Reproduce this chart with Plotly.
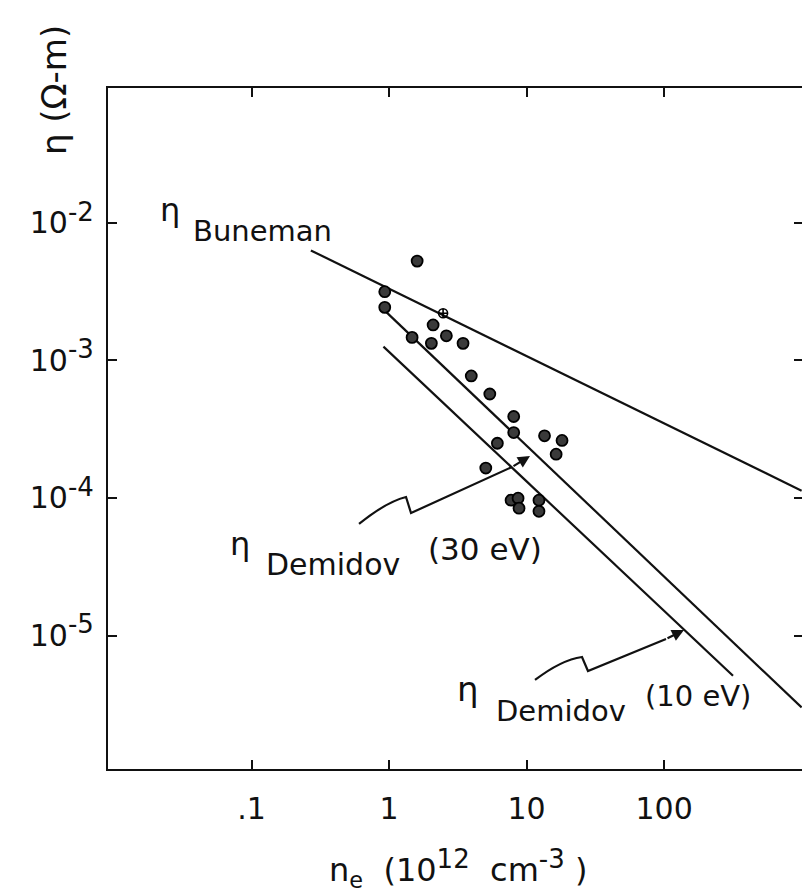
import plotly.graph_objects as go

# ---- data ----
ne_points = [1.60, 0.93, 0.93, 2.09, 2.61, 2.03, 3.45, 1.47, 3.96, 5.40,
             8.06, 8.06, 13.5, 18.1, 16.4, 6.13, 5.05, 7.71, 8.67, 8.81, 12.3, 12.3]
eta_points = [5.27e-3, 3.16e-3, 2.43e-3, 1.81e-3, 1.51e-3, 1.33e-3, 1.33e-3, 1.47e-3,
              7.71e-4, 5.70e-4, 3.91e-4, 2.99e-4, 2.83e-4, 2.62e-4, 2.08e-4, 2.50e-4,
              1.65e-4, 9.64e-5, 9.97e-5, 8.43e-5, 9.64e-5, 8.0e-5]
ne_open = [2.47]
eta_open = [2.20e-3]

buneman_ne = [0.27, 1000]
buneman_eta = [6.3e-3, 1.13e-4]
demidov30_ne = [0.93, 1000]
demidov30_eta = [2.3e-3, 3.0e-6]
demidov10_ne = [0.91, 317]
demidov10_eta = [1.26e-3, 5.1e-6]

x_tickvals = [0.1, 1, 10, 100]
x_ticktext = [".1", "1", "10", "100"]
y_tickvals = [1e-2, 1e-3, 1e-4, 1e-5]
y_exponents = ["-2", "-3", "-4", "-5"]

# ---- layout geometry (pixels) ----
L, R, T, B = 100, 795, 80, 761
W, H = 810, 893


def px(x):
    return (x - L) / (R - L)


def py(y):
    return (B - y) / (B - T)


FONT = "DejaVu Sans"
INK = "#111111"
SUP = '<sup><span style="font-size:26px">{}</span></sup>'

y_ticktext = ["10" + SUP.format(e) for e in y_exponents]

fig = go.Figure()

for xs, ys in [(buneman_ne, buneman_eta), (demidov30_ne, demidov30_eta), (demidov10_ne, demidov10_eta)]:
    fig.add_trace(go.Scatter(x=xs, y=ys, mode="lines",
                             line=dict(color=INK, width=2.2), showlegend=False, hoverinfo="skip"))

fig.add_trace(go.Scatter(x=ne_points, y=eta_points, mode="markers",
                         marker=dict(symbol="circle", size=11, color="#3a3a3a",
                                     line=dict(color="#000", width=1.8)),
                         showlegend=False))
fig.add_trace(go.Scatter(x=ne_open, y=eta_open, mode="markers",
                         marker=dict(symbol="circle-cross-open", size=9, color="#000",
                                     line=dict(color="#000", width=1.6)),
                         showlegend=False))

axis_common = dict(type="log", showgrid=False, zeroline=False, showline=True,
                   linecolor=INK, linewidth=2.2, mirror="ticks", ticks="inside",
                   ticklen=9, tickwidth=2, tickcolor=INK,
                   tickfont=dict(family=FONT, size=30, color=INK))

fig.update_xaxes(range=[-2.044, 3.01], tickvals=x_tickvals, ticktext=x_ticktext,
                 ticklabelstandoff=12, **axis_common)
fig.update_yaxes(range=[-5.97, -1.02], tickvals=y_tickvals, ticktext=y_ticktext,
                 ticklabelstandoff=6, **axis_common)


def label(text, x, y, size=30, angle=0):
    fig.add_annotation(text=text, x=px(x), y=py(y), xref="paper", yref="paper",
                       showarrow=False, xanchor="center", yanchor="middle",
                       textangle=angle, font=dict(family=FONT, size=size, color=INK))


label("η", 162, 202, size=32)
label("Buneman", 254, 223, size=29)
label("η", 232, 536, size=32)
label("Demidov", 325, 556, size=30)
label("(30 eV)", 477, 541, size=31)
label("η", 460, 681, size=34)
label("Demidov", 553, 703, size=29)
label("(10 eV)", 690, 688, size=29)
label("η (Ω-m)", 46, 82, size=34, angle=-90)
label("n<sub>e</sub>  (10" + SUP.format("12") + "  cm" + SUP.format("-3") + " )", 450, 860, size=32)

# squiggly arrows
def P(x, y):
    return f"{px(x):.4f},{py(y):.4f}"

arrow30 = f"M {P(351,516)} Q {P(378,494)} {P(398,489)} L {P(403,505)} L {P(504,459)}"
arrow10 = f"M {P(527,672)} Q {P(553,652)} {P(574,649)} L {P(580,663)} L {P(658,631)}"
for path in (arrow30, arrow10):
    fig.add_shape(type="path", path=path, xref="paper", yref="paper",
                  line=dict(color=INK, width=2.2))

for tip, tail in [((522, 448), (504, 459)), ((676, 622), (658, 631))]:
    fig.add_annotation(x=px(tip[0]), y=py(tip[1]), xref="paper", yref="paper",
                       ax=tail[0] - tip[0], ay=tail[1] - tip[1], text="",
                       showarrow=True, arrowhead=2, arrowsize=1.1, arrowwidth=2.2,
                       arrowcolor=INK)

fig.update_layout(width=W, height=H, margin=dict(l=L, r=W - R, t=T, b=H - B),
                  paper_bgcolor="white", plot_bgcolor="white",
                  font=dict(family=FONT, color=INK))

fig.write_html("out.html")
